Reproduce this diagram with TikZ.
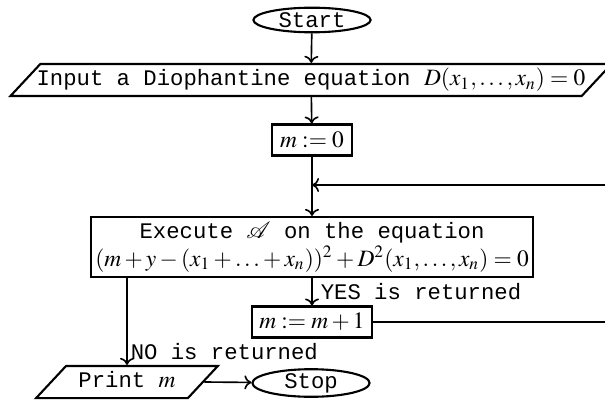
\documentclass[tikz,border=0pt]{standalone}
\usepackage{mathptmx}
\usepackage{mathrsfs}
\usepackage[no-math]{fontspec}
\setmonofont[Scale=0.95]{Liberation Mono}
\usetikzlibrary{shapes.geometric,arrows.meta}

\begin{document}
\begin{tikzpicture}[
  x=0.015cm, y=-0.015cm,
  font=\ttfamily,
  term/.style={draw, line width=0.9pt, ellipse, inner sep=0pt, minimum width=50pt, minimum height=10.5pt},
  proc/.style={draw, line width=0.9pt, rectangle, inner sep=0pt, align=center, minimum height=13.2pt},
  io/.style={draw, line width=0.9pt, trapezium, trapezium left angle=47, trapezium right angle=133, inner xsep=0pt, inner ysep=2.2pt, text height=7pt, text depth=2.3pt},
  arr/.style={-{To[length=3pt,width=6pt]}, line width=0.7pt},
  lab/.style={anchor=west, inner sep=1pt}
]
\path[use as bounding box] (0,0) rectangle (605,400);
\clip (0,0) rectangle (605,400);

\node[term] (start) at (312,20) {Start};
\node[io] (input) at (311,80) {\makebox[231pt]{Input a Diophantine equation $D(x_1,\ldots,x_n)=0$}};
\node[proc, minimum width=34.5pt] (mzero) at (312,140) {$m:=0$};
\coordinate (join) at (312,185);
\node[proc, minimum width=189pt, minimum height=25.6pt] (exec) at (312,247) {Execute $\mathscr{A}$ on the equation\\$(m+y-(x_1+\ldots+x_n))^2+D^2(x_1,\ldots,x_n)=0$};
\node[proc, minimum width=51pt] (inc) at (312,322) {$m:=m+1$};
\node[lab] (yes) at (318,292) {YES is returned};
\node[lab] (no) at (128,352) {NO is returned};
\node[io] (prn) at (127,382) {\makebox[52pt]{Print $m$}};
\node[term] (stop) at (311,383) {Stop};
\coordinate (edge) at (620,185);

\draw[arr] (start) -- (input);
\draw[arr] (input) -- (mzero);
\draw[arr] (mzero) -- (exec);
\draw[arr] (exec) -- (inc);
\draw[arr] (inc.east) -| (edge) -- (join);
\draw[arr] (prn.north |- exec.south) -- (prn.north);
\draw[arr] (prn.east) -- (stop);
\end{tikzpicture}
\end{document}
